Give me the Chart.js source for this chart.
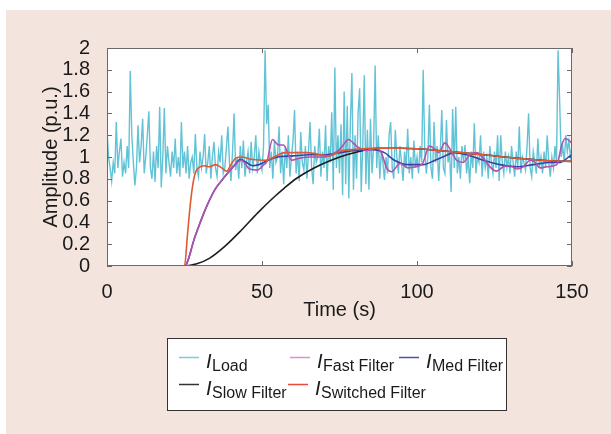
<!DOCTYPE html>
<html>
<head>
<meta charset="utf-8">
<script src="https://cdn.jsdelivr.net/npm/chart.js@4.4.1/dist/chart.umd.min.js"></script>
<style>
  body { margin: 0; background: #fff; }
  #wrap { width: 611px; height: 434px; }
</style>
</head>
<body>
<div id="wrap"><canvas id="ampChart" width="611" height="434"></canvas></div>
<script>
const loadStep = 0.5;
const loadValues = [
  1.25, 1.0, 0.9, 0.78, 0.95, 0.85, 1.32, 0.9, 1.05, 1.17,
  0.82, 0.95, 0.85, 1.1, 0.9, 1.79, 1.2, 0.95, 0.74, 0.9,
  1.29, 0.95, 1.1, 1.35, 0.85, 1.0, 1.2, 1.42, 0.9, 0.8,
  1.05, 0.77, 1.1, 0.9, 1.46, 0.72, 1.0, 1.45, 0.85, 1.1,
  0.95, 0.82, 1.05, 0.9, 1.17, 0.85, 1.0, 0.82, 1.32, 0.9,
  1.05, 0.85, 1.1, 0.8, 0.95, 1.0, 0.85, 1.21, 0.9, 0.82,
  1.05, 0.9, 1.0, 1.21, 0.85, 0.95, 1.1, 0.8, 1.0, 1.14,
  0.9, 0.82, 1.05, 0.95, 1.2, 0.85, 0.9, 1.08, 1.28, 0.95,
  0.78, 1.05, 1.4, 0.88, 1.0, 0.8, 1.1, 0.9, 1.15, 0.82,
  0.95, 1.05, 0.85, 1.14, 0.9, 1.0, 1.2, 0.85, 1.05, 0.95,
  0.88, 1.1, 1.98, 1.3, 1.48, 0.9, 1.05, 0.8, 1.15, 0.95,
  1.0, 1.28, 0.85, 1.05, 0.75, 1.1, 0.9, 1.2, 0.82, 1.0,
  1.15, 1.43, 0.85, 1.05, 0.78, 1.23, 0.95, 0.88, 1.1, 0.8,
  1.05, 1.32, 0.9, 0.75, 1.1, 0.95, 1.0, 1.26, 0.82, 1.05,
  0.9, 1.29, 0.78, 1.1, 0.95, 1.41, 0.7, 1.82, 0.9, 1.2,
  0.85, 1.3, 0.65, 1.6, 0.75, 1.47, 0.62, 1.3, 1.77, 0.7,
  1.2, 0.8, 1.4, 1.63, 0.68, 1.1, 1.75, 0.75, 1.25, 0.7,
  1.35, 0.85, 1.1, 1.84, 0.9, 1.2, 0.8, 1.05, 0.95, 0.79,
  1.0, 0.85, 1.2, 1.32, 0.9, 0.8, 1.25, 1.0, 0.85, 1.1,
  0.95, 0.78, 1.05, 0.9, 1.26, 0.85, 1.0, 0.8, 1.15, 0.9,
  1.0, 0.85, 1.1, 0.95, 1.8, 1.05, 0.85, 1.0, 1.48, 0.9,
  0.8, 1.32, 0.95, 1.1, 0.78, 1.05, 1.43, 0.9, 0.85, 1.34,
  0.95, 1.05, 0.68, 1.44, 0.9, 1.46, 0.85, 1.0, 0.8, 1.1,
  0.95, 1.11, 0.85, 1.0, 0.76, 1.05, 0.9, 1.31, 0.85, 1.0,
  0.95, 1.2, 0.82, 1.05, 0.9, 1.0, 0.8, 1.1, 0.95, 0.85,
  1.05, 0.9, 1.2, 0.78, 1.2, 0.95, 0.85, 1.05, 0.9, 1.0,
  0.85, 1.1, 0.95, 0.82, 1.05, 0.9, 1.28, 0.85, 1.0, 0.95,
  0.88, 1.1, 1.4, 0.9, 0.82, 1.05, 0.95, 0.85, 1.17, 0.9,
  1.0, 0.85, 1.05, 0.9, 1.2, 0.95, 0.82, 1.0, 0.9, 1.1,
  0.95, 1.98, 1.53, 1.0, 1.1, 0.95, 1.2, 1.05, 1.15, 1.0,
  1.1
];

// Filter outputs (time in s, amplitude in p.u.)
const fastTime = [0, 25, 28.4, 31.6, 34.8, 38, 41.3, 43.4, 46, 48.5, 50.6, 51.6, 53.4, 55.3, 56.9, 59.6, 62.2, 65.4, 69.8, 73, 75, 76.2, 77.8, 80.5, 83.7, 86.9, 88.5, 90.2, 91.8, 94.5, 97, 99.6, 101.8, 104, 105.5, 107, 109, 110.5, 112.8, 114.9, 117, 119.2, 121.4, 123.5, 125.7, 127.8, 130, 132.2, 134.3, 136.5, 138.1, 139.7, 141.9, 145.1, 146.7, 147.8, 149.5, 150];
const fastValues = [0, 0, 0.27, 0.51, 0.70, 0.82, 0.93, 0.97, 0.89, 0.88, 0.93, 0.96, 1.16, 1.11, 1.11, 0.97, 0.99, 1.0, 1.0, 1.03, 1.07, 1.11, 1.16, 1.1, 1.06, 1.08, 1.04, 0.9, 0.865, 0.94, 0.9, 0.91, 0.94, 1.1, 1.08, 1.04, 1.13, 1.08, 0.97, 0.95, 1.02, 1.04, 0.99, 0.91, 0.87, 0.91, 0.92, 0.89, 0.91, 0.97, 0.95, 0.9, 0.91, 0.93, 1.11, 1.17, 1.14, 1.12];

const medTime = [0, 25, 28.4, 31.6, 34.8, 38, 41.3, 43, 45, 47, 49, 52, 55, 60, 65, 70, 75, 80, 85, 89.5, 92.7, 97, 102, 105.8, 109, 112, 116, 121.4, 126.8, 132.2, 137.6, 143, 146.2, 148.9, 150];
const medValues = [0, 0, 0.27, 0.51, 0.70, 0.82, 0.93, 0.98, 0.95, 0.92, 0.93, 0.97, 1.0, 1.01, 1.02, 1.02, 1.04, 1.06, 1.07, 1.04, 0.97, 0.93, 0.93, 0.97, 1.01, 1.04, 1.02, 0.97, 0.93, 0.91, 0.93, 0.95, 0.95, 1.0, 1.02];

const slowTime = [0, 25, 29, 33, 38, 43.4, 48.7, 54, 57.2, 61.2, 66.5, 71.9, 77.3, 82.6, 87, 95, 100, 110.6, 121.4, 132, 143, 150];
const slowValues = [0, 0, 0.02, 0.07, 0.18, 0.33, 0.49, 0.635, 0.715, 0.805, 0.895, 0.965, 1.02, 1.06, 1.08, 1.08, 1.075, 1.05, 1.02, 0.99, 0.965, 0.96];

const switchedTime = [0, 25, 26, 27, 28, 28.7, 29.5, 31.5, 33, 35, 37, 38.6, 40, 41.5, 43.5, 46.5, 51, 57.5, 64.5, 72, 75, 80, 87, 95, 100, 110.6, 121.4, 132, 143, 150];
const switchedValues = [0, 0, 0.3, 0.6, 0.8, 0.87, 0.9, 0.92, 0.91, 0.93, 0.9, 0.87, 0.93, 0.99, 1.0, 0.98, 0.97, 1.04, 1.04, 1.01, 1.05, 1.07, 1.08, 1.08, 1.075, 1.05, 1.02, 0.99, 0.965, 0.96];

const legendNames = ['Load', 'Fast Filter', 'Med Filter', 'Slow Filter', 'Switched Filter'];

const FONT = 'Liberation Sans, Arial, Helvetica, sans-serif';
const TEXT = '#1a1a1a';

function pts(xs, ys) {
  return xs.map((x, i) => ({ x: x, y: ys[i] }));
}

// backdrop: pink panel + white plot area
const backdrop = {
  id: 'backdrop',
  beforeDraw(chart) {
    const ctx = chart.ctx;
    const a = chart.chartArea;
    ctx.save();
    ctx.fillStyle = '#ffffff';
    ctx.fillRect(0, 0, chart.width, chart.height);
    ctx.fillStyle = '#f4e4de';
    ctx.fillRect(6, 10, chart.width - 6, chart.height - 10);
    ctx.fillStyle = '#ffffff';
    ctx.fillRect(a.left, a.top, a.right - a.left, a.bottom - a.top);
    ctx.restore();
  }
};

// matlab style box with inward ticks
const frame = {
  id: 'frame',
  afterDatasetsDraw(chart) {
    const ctx = chart.ctx;
    const a = chart.chartArea;
    const xs = chart.scales.x, ys = chart.scales.y;
    ctx.save();
    ctx.strokeStyle = '#6a6a6a';
    ctx.lineWidth = 1;
    ctx.strokeRect(a.left + 0.5, a.top + 0.5, a.right - a.left - 1, a.bottom - a.top - 1);
    ctx.beginPath();
    ys.ticks.forEach(t => {
      const y = Math.round(ys.getPixelForValue(t.value)) + 0.5;
      ctx.moveTo(a.left, y); ctx.lineTo(a.left + 5, y);
      ctx.moveTo(a.right - 5, y); ctx.lineTo(a.right, y);
    });
    xs.ticks.forEach(t => {
      const x = Math.round(xs.getPixelForValue(t.value)) + 0.5;
      ctx.moveTo(x, a.top); ctx.lineTo(x, a.top + 5);
      ctx.moveTo(x, a.bottom - 5); ctx.lineTo(x, a.bottom);
    });
    ctx.stroke();
    ctx.restore();
  }
};

// legend with italic I and subscript names
const subLegend = {
  id: 'subLegend',
  afterDraw(chart) {
    const ctx = chart.ctx;
    const slots = [[179, 357], [290, 357], [399, 357], [179, 384], [288, 384]];
    ctx.save();
    ctx.fillStyle = '#ffffff';
    ctx.fillRect(167, 338, 339, 72);
    ctx.strokeStyle = '#333333';
    ctx.lineWidth = 1;
    ctx.strokeRect(167.5, 338.5, 339, 72);
    legendNames.forEach((name, i) => {
      const ds = chart.data.datasets.find(d => d.label === 'I ' + name);
      const [x, y] = slots[i];
      ctx.strokeStyle = ds.legendColor || ds.borderColor;
      ctx.lineWidth = 1.5;
      ctx.beginPath();
      ctx.moveTo(x, y + 0.5); ctx.lineTo(x + 20, y + 0.5);
      ctx.stroke();
      ctx.fillStyle = TEXT;
      ctx.textBaseline = 'alphabetic';
      ctx.font = 'italic 20px ' + FONT;
      ctx.fillText('I', x + 27, y + 11);
      ctx.font = '16px ' + FONT;
      ctx.fillText(name, x + 33, y + 14);
    });
    ctx.restore();
  }
};

const axisFont = { family: FONT, size: 20 };

new Chart(document.getElementById('ampChart'), {
  type: 'line',
  data: {
    datasets: [
      {
        label: 'I Load',
        data: loadValues.map((v, i) => ({ x: i * loadStep, y: v })),
        borderColor: 'rgb(98,195,214)',
        legendColor: 'rgb(120,206,224)',
        borderWidth: 1.4,
        order: 5
      },
      {
        label: 'I Fast Filter',
        data: pts(fastTime, fastValues),
        borderColor: '#b152ad',
        legendColor: '#d493cc',
        borderWidth: 1.6,
        cubicInterpolationMode: 'monotone',
        order: 2
      },
      {
        label: 'I Med Filter',
        data: pts(medTime, medValues),
        borderColor: '#3a40a6',
        legendColor: '#4a55a8',
        borderWidth: 1.6,
        cubicInterpolationMode: 'monotone',
        order: 3
      },
      {
        label: 'I Slow Filter',
        data: pts(slowTime, slowValues),
        borderColor: '#1e1e1e',
        legendColor: '#333333',
        borderWidth: 1.6,
        cubicInterpolationMode: 'monotone',
        order: 4
      },
      {
        label: 'I Switched Filter',
        data: pts(switchedTime, switchedValues),
        borderColor: '#dc5a36',
        legendColor: '#e84a3e',
        borderWidth: 1.6,
        cubicInterpolationMode: 'monotone',
        order: 1
      }
    ]
  },
  options: {
    responsive: false,
    animation: false,
    devicePixelRatio: 1,
    elements: { point: { radius: 0 } },
    layout: { padding: { left: 0, top: 48, right: 39, bottom: 112 } },
    plugins: {
      legend: { display: false },
      tooltip: { enabled: false }
    },
    scales: {
      x: {
        type: 'linear',
        min: 0,
        max: 150,
        afterFit: s => { s.height = 56; },
        grid: { display: false },
        border: { display: false },
        ticks: { stepSize: 50, padding: 6, maxRotation: 0, font: axisFont, color: TEXT },
        title: { display: true, text: 'Time (s)', font: axisFont, color: TEXT, padding: { top: 0, bottom: 0 } }
      },
      y: {
        type: 'linear',
        min: 0,
        max: 2,
        afterFit: s => { s.width = 107; },
        grid: { display: false },
        border: { display: false },
        ticks: {
          stepSize: 0.2,
          autoSkip: false,
          padding: 9,
          font: axisFont,
          color: TEXT,
          callback: v => parseFloat(v.toFixed(1)).toString()
        },
        title: { display: true, text: 'Amplitude (p.u.)', font: axisFont, color: TEXT, padding: { top: 39, bottom: 0 } }
      }
    }
  },
  plugins: [backdrop, frame, subLegend]
});
</script>
</body>
</html>
